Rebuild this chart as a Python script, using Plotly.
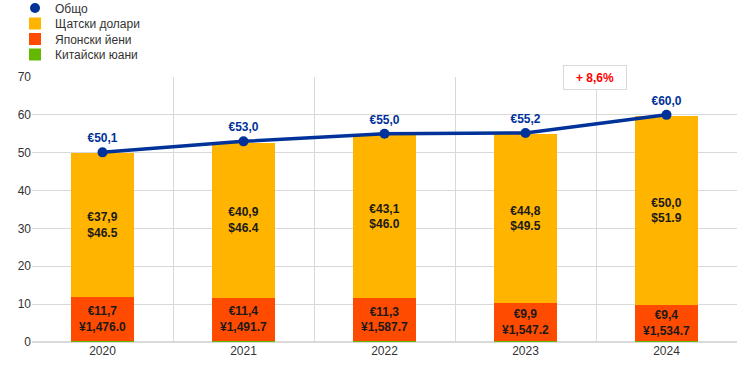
import plotly.graph_objects as go

years = ["2020", "2021", "2022", "2023", "2024"]
total = [50.1, 53.0, 55.0, 55.2, 60.0]
usd_eur = [37.9, 40.9, 43.1, 44.8, 50.0]
usd_usd = ["46.5", "46.4", "46.0", "49.5", "51.9"]
jpy_eur = [11.7, 11.4, 11.3, 9.9, 9.4]
jpy_jpy = ["1,476.0", "1,491.7", "1,587.7", "1,547.2", "1,534.7"]
cny_eur = [0.3, 0.3, 0.3, 0.3, 0.3]
change_label = "<b>+ 8,6%</b>"

def eur(v):
    return "€" + f"{v:.1f}".replace(".", ",")

FONT = "Liberation Sans, Arial, sans-serif"
BLUE = "#003299"
YELLOW = "#FFB400"
ORANGE = "#FF4B00"
GREEN = "#65B800"
W = 744
H = 366

fig = go.Figure()
fig.add_trace(go.Bar(x=years, y=cny_eur, name="Китайски юани", marker_color=GREEN,
                     marker_line_width=0, legend="legend4", hoverinfo="skip"))
fig.add_trace(go.Bar(x=years, y=jpy_eur, name="Японски йени", marker_color=ORANGE,
                     marker_line_width=0, legend="legend3",
                     text=[f"<b>{eur(a)}<br>¥{b}</b>" for a, b in zip(jpy_eur, jpy_jpy)],
                     textposition="inside", insidetextanchor="middle",
                     textfont=dict(family=FONT, size=12, color="#1a1a1a"),
                     textangle=0))
fig.add_trace(go.Bar(x=years, y=usd_eur, name="Щатски долари", marker_color=YELLOW,
                     marker_line_width=0, legend="legend2",
                     text=[f"<b>{eur(a)}<br>${b}</b>" for a, b in zip(usd_eur, usd_usd)],
                     textposition="inside", insidetextanchor="middle",
                     textfont=dict(family=FONT, size=12, color="#1a1a1a"),
                     textangle=0))
fig.add_trace(go.Scatter(x=years, y=total, mode="lines+markers+text", showlegend=False,
                         line=dict(color=BLUE, width=3.5),
                         marker=dict(color=BLUE, size=10),
                         text=[f"<b>{eur(v)}</b>" for v in total], textposition="top center",
                         textfont=dict(family=FONT, size=12, color=BLUE)))
fig.add_trace(go.Scatter(x=[None], y=[None], mode="markers", name="Общо",
                         marker=dict(color=BLUE, size=10), legend="legend"))

fig.add_annotation(x=3.5, y=70, xref="x", yref="y", text=change_label, showarrow=False,
                   font=dict(family=FONT, size=12, color="#FF0000"),
                   bgcolor="white", bordercolor="#d9d9d9", borderwidth=1, borderpad=5,
                   width=52, height=13, xshift=-1)

def leg(ypix):
    return dict(x=15 / W, xref="container", y=1 - ypix / H, yref="container",
                xanchor="left", yanchor="middle",
                font=dict(family=FONT, size=12, color="#333333"),
                bgcolor="rgba(0,0,0,0)", borderwidth=0, itemwidth=30)

fig.update_layout(
    width=W, height=H,
    margin=dict(l=32, r=7, t=77, b=24, autoexpand=False),
    paper_bgcolor="white", plot_bgcolor="white",
    barmode="stack", bargap=0.55,
    font=dict(family=FONT, size=12, color="#333333"),
    uniformtext=dict(minsize=12, mode="show"),
    legend=leg(8), legend2=leg(23.5), legend3=leg(39), legend4=leg(54.5),
    showlegend=True,
)
fig.update_xaxes(showgrid=True, gridcolor="#d9d9d9", gridwidth=1, tickson="boundaries",
                 ticks="", showline=False, tickfont=dict(size=12, color="#333333"))
fig.update_yaxes(range=[0, 70], dtick=10, showgrid=True, gridcolor="#d9d9d9",
                 zeroline=True, zerolinecolor="#d9d9d9", zerolinewidth=1.5,
                 ticks="", tickfont=dict(size=12, color="#333333"))

fig.write_html("out.html", config={"displayModeBar": False},
               post_script="document.body.style.margin='0';document.body.style.overflow='hidden';")
